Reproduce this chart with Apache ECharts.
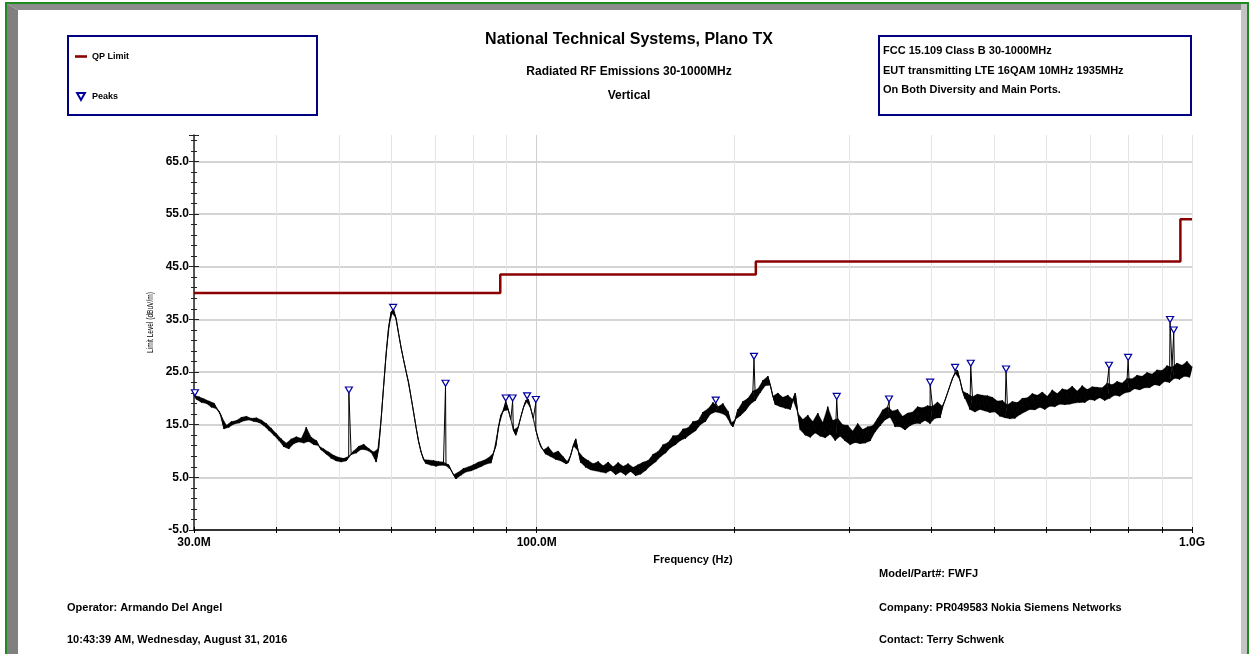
<!DOCTYPE html>
<html><head><meta charset="utf-8">
<script src="https://cdn.jsdelivr.net/npm/echarts@6/dist/echarts.min.js"></script>
<style>html,body{margin:0;padding:0;background:#fff}#chart{width:1249px;height:654px}</style>
</head><body><div id="chart"></div>
<script>
// ---------- data ----------
const xTickValues = [30,40,50,60,70,80,90,100,200,300,400,500,600,700,800,900,1000];
const xLabelValues = [30,100,1000];
const yMin = -5, yMax = 70, yStep = 10;

const limitFreqMHz = [30, 88, 88, 216, 216, 960, 960, 1000];
const limitLevel   = [40.0, 40.0, 43.5, 43.5, 46.0, 46.0, 54.0, 54.0];

const peakFreqMHz = [30.1, 51.7, 60.4, 72.6, 89.7, 91.9, 96.7, 99.7, 187.6, 214.6, 287, 344.9, 398.5, 435, 459.6, 520.3, 747, 799, 925.8, 937.8];
const peakLevel   = [20.5, 21.0, 36.7, 22.3, 19.5, 19.5, 19.9, 19.2, 19.1, 27.4, 19.8, 19.3, 22.5, 25.3, 26.1, 25.0, 25.7, 27.2, 34.4, 32.4];

// sweep: 401 log-spaced points 30 MHz .. 1 GHz
const sweepStart = 30, sweepStop = 1000, sweepPoints = 401;
const traceLevel = [
20.6,19.8,20.3,19.2,19.9,19.0,19.5,18.3,19.1,18.0,
17.6,16.6,14.2,14.9,14.5,15.6,15.1,15.8,15.3,16.4,
15.7,16.6,15.9,16.2,15.6,16.3,15.4,15.9,14.8,15.2,
13.9,14.3,13.0,13.3,12.0,12.3,10.8,11.5,10.4,12.3,
11.4,12.7,11.7,12.4,11.5,14.5,11.8,12.6,11.2,12.0,
11.0,10.2,10.4,9.4,9.8,8.6,9.2,8.1,8.8,7.9,
8.6,8.1,9.0,9.3,10.0,9.6,10.9,10.3,11.3,10.2,
10.5,9.7,9.8,7.9,10.5,16.0,22.3,28.5,33.5,36.4,
37.0,35.2,32.3,29.6,27.3,25.1,23.0,20.2,17.4,14.5,
11.8,9.8,8.4,7.6,8.3,7.3,8.2,7.1,8.0,7.3,
7.9,7.2,7.4,6.4,5.5,4.7,6.0,5.4,6.7,6.0,
7.0,6.2,7.4,6.6,7.9,7.0,8.2,7.5,8.7,7.7,
9.6,11.0,14.5,16.8,17.6,19.2,17.8,16.0,14.0,13.0,
14.6,16.5,18.2,19.6,19.8,18.0,16.2,14.0,12.2,10.8,
10.2,9.4,10.8,8.9,9.6,8.4,10.0,8.1,8.9,7.6,
7.8,9.2,11.0,12.3,10.0,7.8,8.8,6.9,8.2,6.4,
7.6,6.2,8.0,6.0,7.2,5.8,7.9,6.3,7.0,5.5,
7.8,6.0,7.1,5.4,7.6,6.1,6.9,5.3,7.4,5.6,
7.9,6.3,8.2,7.2,9.4,7.9,9.9,8.9,11.2,9.6,
11.6,10.6,12.9,11.2,13.0,12.0,14.2,12.4,14.4,13.2,
15.6,13.8,15.8,15.0,17.4,15.6,18.0,17.0,19.2,17.4,
18.4,17.2,19.0,16.8,17.6,15.2,14.6,16.0,17.9,16.7,
19.4,17.6,20.0,18.9,21.4,19.6,21.8,21.1,23.4,22.4,
24.2,22.5,20.4,18.8,21.0,18.4,20.2,18.1,20.6,17.9,
19.8,21.0,17.2,14.0,16.0,13.0,16.8,12.6,15.6,13.4,
17.2,12.8,15.4,12.5,18.4,13.2,15.8,12.0,16.2,12.8,
15.0,11.9,14.9,11.2,13.8,11.6,15.2,11.4,14.1,11.5,
14.6,11.9,14.8,13.6,16.2,14.8,17.8,15.9,18.4,16.4,
17.6,14.6,17.9,14.6,16.6,14.0,17.2,14.8,17.4,15.2,
18.4,15.2,18.2,15.8,18.6,15.2,18.5,16.2,19.3,16.3,
18.5,19.6,21.0,22.4,23.8,24.8,25.3,23.5,21.4,20.0,
20.9,17.9,20.3,17.4,20.8,17.9,20.6,17.6,20.5,17.3,
20.2,17.4,19.5,16.6,19.6,16.3,18.8,16.1,19.4,16.2,
19.2,16.9,20.0,17.4,20.1,17.9,20.9,17.8,20.6,18.3,
21.2,17.9,20.4,18.5,21.6,18.4,20.9,18.9,21.8,18.8,
21.6,18.9,22.3,19.1,21.4,19.2,22.4,19.2,21.7,19.8,
22.2,19.6,22.1,20.1,22.0,19.6,22.9,20.0,22.6,20.6,
23.2,20.4,22.9,21.0,23.8,21.2,23.7,21.8,24.4,21.6,
24.2,22.0,24.9,22.0,24.6,22.6,25.4,22.4,25.3,23.2,
26.2,23.0,25.9,23.8,26.7,23.6,26.3,24.2,27.0,24.0,26.0
];

// ---------- build ----------
const sweepFreq = traceLevel.map((_, i) => sweepStart * Math.pow(sweepStop / sweepStart, i / (sweepPoints - 1)));
const traceData = sweepFreq.map((f, i) => [f, traceLevel[i]])
  .concat(peakFreqMHz.map((f, i) => [f, peakLevel[i]]))
  .sort((a, b) => a[0] - b[0]);
// noise fill: triangles spanned by consecutive sweep points
const bandData = [];
for (let i = 0; i + 2 < sweepFreq.length; i++) {
  bandData.push([sweepFreq[i], traceLevel[i], sweepFreq[i + 1], traceLevel[i + 1], sweepFreq[i + 2], traceLevel[i + 2]]);
}
const limitData = limitFreqMHz.map((f, i) => [f, limitLevel[i]]);
const peakData = peakFreqMHz.map((f, i) => [f, peakLevel[i]]);

const FONT = '"Liberation Sans", Arial, Helvetica, sans-serif';
const triPath = 'path://M0,0 L10,0 L5,9 Z';

function txt(x, y, s, size, align, weight) {
  return { type: 'text', x: x, y: y, z: 10, silent: true,
    style: { text: s, font: (weight || 'bold') + ' ' + size + 'px ' + FONT, fill: '#000',
      textAlign: align || 'left', textVerticalAlign: 'middle', align: align || 'left', verticalAlign: 'middle' } };
}

const vGridColors = xTickValues.map(v => v === 100 ? '#cfcfcf' : '#e4e4e4');
const hGridColors = ['#c6c6c6','#c6c6c6','#c6c6c6','#c6c6c6','#c6c6c6','#c6c6c6','#c6c6c6','#c6c6c6','rgba(0,0,0,0)'];

const chart = echarts.init(document.getElementById('chart'), null, { renderer: 'canvas' });
chart.setOption({
  backgroundColor: '#ffffff',
  animation: false,
  textStyle: { fontFamily: FONT },
  grid: { left: 194, right: 57, top: 135, bottom: 124, containLabel: false, outerBoundsMode: 'none' },
  legend: {
    orient: 'vertical', left: 75, top: 52, padding: 0, itemGap: 31,
    itemWidth: 12, itemHeight: 7, symbolKeepAspect: true,
    textStyle: { fontSize: 9, fontWeight: 'bold', color: '#000', fontFamily: FONT },
    data: [
      { name: 'QP Limit', icon: 'path://M0,0 L12,0 L12,2.6 L0,2.6 Z', itemStyle: { color: '#8b0000' } },
      { name: 'Peaks' }
    ]
  },
  xAxis: [{
    type: 'log', logBase: 10, min: 30, max: 1000,
    axisLine: { show: true, onZero: false, lineStyle: { color: '#000', width: 1.5 } },
    axisTick: { show: true, customValues: xTickValues, length: 3, lineStyle: { color: '#000' } },
    axisLabel: { show: true, customValues: xLabelValues, margin: 7, fontSize: 12, fontWeight: 'bold', color: '#000', fontFamily: FONT,
      formatter: v => v >= 999 ? (v / 1000).toFixed(1) + 'G' : v.toFixed(1) + 'M' },
    splitLine: { show: true, lineStyle: { color: vGridColors, width: 1 } },
    minorTick: { show: false }, minorSplitLine: { show: false },
    name: 'Frequency (Hz)', nameLocation: 'middle', nameGap: 24,
    nameTextStyle: { fontSize: 11, fontWeight: 'bold', color: '#000', fontFamily: FONT }
  }, {
    type: 'log', logBase: 10, min: 30, max: 1000, position: 'bottom',
    axisLine: { show: false, onZero: false },
    axisTick: { show: true, inside: true, customValues: xTickValues, length: 3, lineStyle: { color: '#000' } },
    axisLabel: { show: false }, splitLine: { show: false }
  }],
  yAxis: [{
    type: 'value', min: yMin, max: yMax, interval: yStep, position: 'left',
    axisLine: { show: true, onZero: false, lineStyle: { color: '#222', width: 1.5 } },
    axisTick: { show: true, length: 5, lineStyle: { color: '#222' } },
    minorTick: { show: true, splitNumber: 5, length: 3, lineStyle: { color: '#222' } },
    axisLabel: { margin: 5, fontSize: 12, fontWeight: 'bold', color: '#000', fontFamily: FONT,
      formatter: v => v > 65.5 ? '' : v.toFixed(1) },
    splitLine: { show: true, lineStyle: { color: hGridColors, width: 1.5 } }
  }, {
    type: 'value', min: yMin, max: yMax, interval: yStep, position: 'left',
    axisLine: { show: false, onZero: false },
    axisTick: { show: true, inside: true, length: 5, lineStyle: { color: '#222' } },
    minorTick: { show: true, splitNumber: 5, length: 3, lineStyle: { color: '#222' } },
    axisLabel: { show: false }, splitLine: { show: false }
  }],
  graphic: [
    // frame
    { type: 'rect', z: 0, silent: true, shape: { x: 5, y: 2, width: 1244, height: 2 }, style: { fill: '#1f8a1f' } },
    { type: 'rect', z: 0, silent: true, shape: { x: 5, y: 2, width: 2, height: 652 }, style: { fill: '#1f8a1f' } },
    { type: 'polygon', z: 0, silent: true, shape: { points: [[7, 4], [1241, 4], [1241, 10], [18, 10]] }, style: { fill: '#8c8c8c' } },
    { type: 'polygon', z: 0, silent: true, shape: { points: [[7, 4], [18, 10], [18, 654], [7, 654]] }, style: { fill: '#808080' } },
    { type: 'rect', z: 0, silent: true, shape: { x: 1241, y: 4, width: 6, height: 650 }, style: { fill: '#c4c4c4' } },
    { type: 'rect', z: 0, silent: true, shape: { x: 1247, y: 2, width: 2, height: 652 }, style: { fill: '#1f8a1f' } },
    // boxes
    { type: 'rect', z: 1, silent: true, shape: { x: 68, y: 36, width: 249, height: 79 }, style: { fill: 'none', stroke: '#000080', lineWidth: 2 } },
    { type: 'rect', z: 1, silent: true, shape: { x: 879, y: 36, width: 312, height: 79 }, style: { fill: 'none', stroke: '#000080', lineWidth: 2 } },
    // titles
    txt(629, 40, 'National Technical Systems, Plano TX', 16, 'center'),
    txt(629, 72, 'Radiated RF Emissions 30-1000MHz', 12, 'center'),
    txt(629, 96, 'Vertical', 12, 'center'),
    // info box
    txt(883, 51, 'FCC 15.109 Class B 30-1000MHz', 11),
    txt(883, 71, 'EUT transmitting LTE 16QAM 10MHz 1935MHz', 11),
    txt(883, 90, 'On Both Diversity and Main Ports.', 11),
    // footer
    txt(879, 574, 'Model/Part#: FWFJ', 11),
    txt(879, 608, 'Company: PR049583 Nokia Siemens Networks', 11),
    txt(879, 640, 'Contact: Terry Schwenk', 11),
    txt(67, 608, 'Operator: Armando Del Angel', 11),
    txt(67, 640, '10:43:39 AM, Wednesday, August 31, 2016', 11),
    // y axis name
    { type: 'text', x: 150.5, y: 322.5, rotation: Math.PI / 2, scaleX: 0.73, z: 10, silent: true,
      style: { text: 'Limit Level (dBuV/m)', font: '9px ' + FONT, fill: '#000',
        textAlign: 'center', textVerticalAlign: 'middle', align: 'center', verticalAlign: 'middle' } }
  ],
  series: [{
    name: 'Band', type: 'custom', data: bandData, xAxisIndex: 0, yAxisIndex: 0, z: 2, silent: true,
    encode: { x: [0, 2, 4], y: [1, 3, 5] },
    renderItem: function (params, api) {
      const p0 = api.coord([api.value(0), api.value(1)]);
      const p1 = api.coord([api.value(2), api.value(3)]);
      const p2 = api.coord([api.value(4), api.value(5)]);
      return { type: 'polygon', shape: { points: [p0, p1, p2] }, style: { fill: '#000', stroke: '#000', lineWidth: 0.3 } };
    }
  }, {
    name: 'Trace', type: 'line', data: traceData, xAxisIndex: 0, yAxisIndex: 0,
    showSymbol: false, symbol: 'none', sampling: null, z: 2,
    lineStyle: { color: '#000', width: 1 }, emphasis: { disabled: true }
  }, {
    name: 'QP Limit', type: 'line', data: limitData, xAxisIndex: 0, yAxisIndex: 0,
    showSymbol: false, symbol: 'none', z: 3,
    lineStyle: { color: '#8b0000', width: 2.5 }, itemStyle: { color: '#8b0000' }, emphasis: { disabled: true }
  }, {
    name: 'Peaks', type: 'scatter', data: peakData, xAxisIndex: 0, yAxisIndex: 0, z: 4,
    symbol: triPath, symbolSize: [7, 6], symbolOffset: [0, -3], symbolKeepAspect: false,
    itemStyle: { color: '#ffffff', borderColor: '#0000a0', borderWidth: 1.2, opacity: 1 },
    emphasis: { disabled: true }
  }]
});
</script></body></html>
